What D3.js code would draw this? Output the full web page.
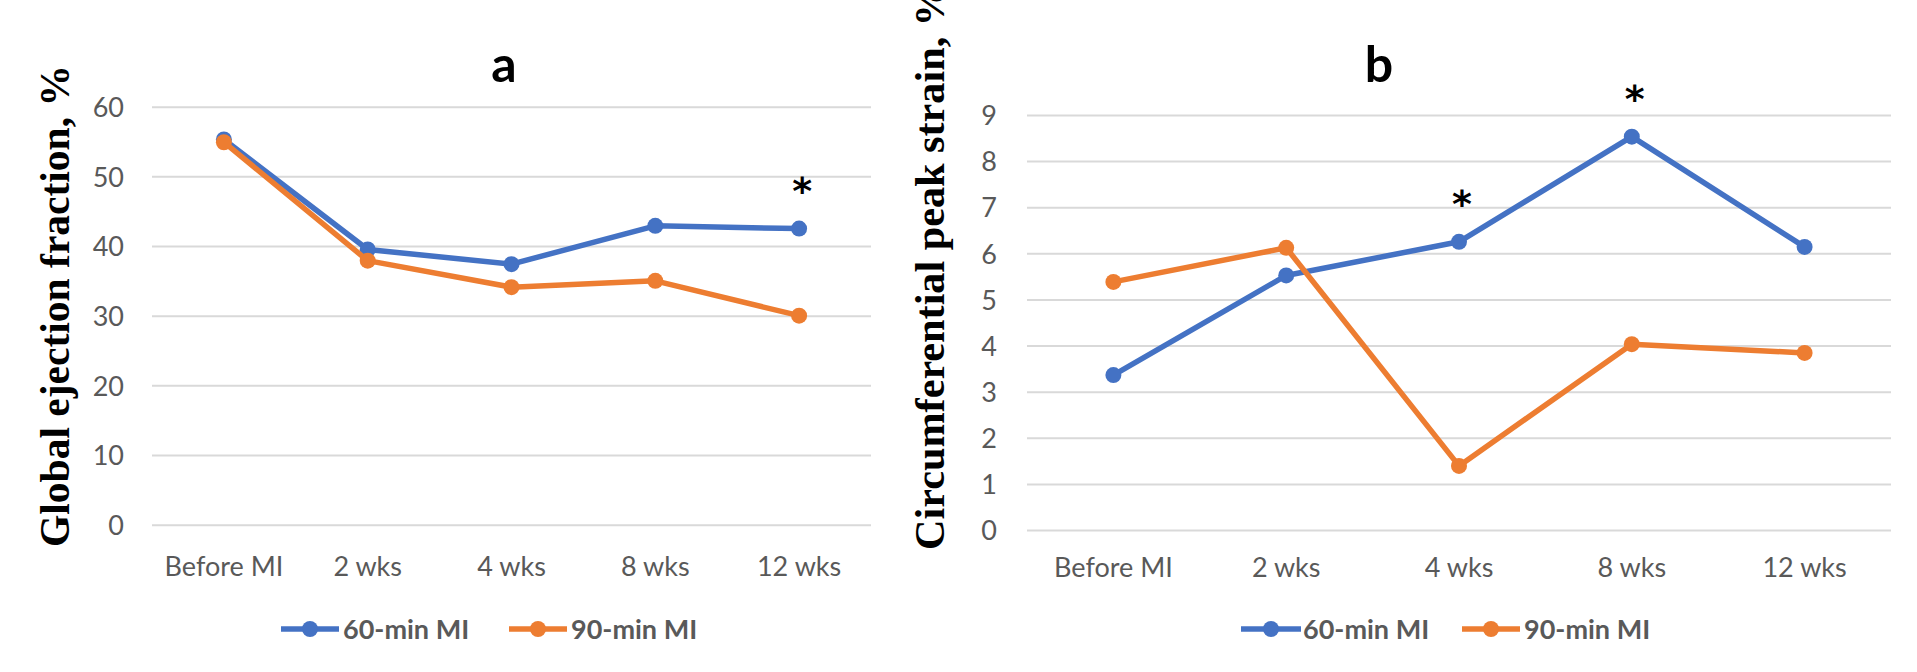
<!DOCTYPE html>
<html>
<head>
<meta charset="utf-8">
<script src="https://cdn.jsdelivr.net/npm/d3@7"></script>
<style>
  html, body { margin: 0; padding: 0; background: #ffffff; }
  svg { display: block; }
</style>
</head>
<body>
<script>
// ---- data ----
const categories = ["Before MI", "2 wks", "4 wks", "8 wks", "12 wks"];
const seriesNames = ["60-min MI", "90-min MI"];
const efValues60 = [55.3, 39.5, 37.4, 42.9, 42.5];
const efValues90 = [54.9, 37.9, 34.1, 35.0, 30.0];
const strainValues60 = [3.36, 5.52, 6.25, 8.53, 6.14];
const strainValues90 = [5.38, 6.12, 1.39, 4.03, 3.84];
const efTicks = [0, 10, 20, 30, 40, 50, 60];
const strainTicks = [0, 1, 2, 3, 4, 5, 6, 7, 8, 9];
const efStars = ["12 wks"];
const strainStars = ["4 wks", "8 wks"];

const colors = ["#4472C4", "#ED7D31"];
const W = 1917, H = 672;

const svg = d3.select("body").append("svg").attr("width", W).attr("height", H);

function drawPanel(cfg) {
  const x = d3.scaleBand().domain(categories).range([cfg.left, cfg.right]);
  const cx = c => x(c) + x.bandwidth() / 2;
  const y = d3.scaleLinear().domain(cfg.domain).range([cfg.bottom, cfg.top]);
  const g = svg.append("g");

  // gridlines + y tick labels
  const yAxis = d3.axisLeft(y).tickValues(cfg.ticks).tickSize(-(cfg.right - cfg.left)).tickPadding(cfg.tickGap);
  const ga = g.append("g").attr("transform", `translate(${cfg.left},0)`).call(yAxis);
  ga.select(".domain").remove();
  ga.selectAll(".tick line").attr("stroke", "#d9d9d9").attr("stroke-width", 2);
  ga.selectAll(".tick text").attr("fill", "#595959").style("font-family", "Lato, 'Open Sans', sans-serif")
    .style("font-size", "27px").attr("dy", "0.36em");

  // x labels
  const xAxis = d3.axisBottom(x).tickSize(0).tickPadding(0);
  const gx = g.append("g").attr("transform", `translate(0,${cfg.labelY})`).call(xAxis);
  gx.select(".domain").remove();
  gx.selectAll(".tick text").attr("fill", "#595959").style("font-family", "Lato, 'Open Sans', sans-serif")
    .style("font-size", "27px").attr("dy", 0).attr("y", 0);

  // lines + markers
  const line = d3.line().x((d, i) => cx(categories[i])).y(d => y(d));
  cfg.series.forEach((vals, si) => {
    g.append("path").datum(vals).attr("d", line).attr("fill", "none")
      .attr("stroke", colors[si]).attr("stroke-width", 5.5).attr("stroke-linejoin", "round");
    g.selectAll(null).data(vals).enter().append("circle")
      .attr("cx", (d, i) => cx(categories[i])).attr("cy", d => y(d)).attr("r", 8).attr("fill", colors[si]);
  });

  // asterisks
  cfg.stars.forEach(c => {
    const i = categories.indexOf(c);
    g.append("text").attr("x", cx(c) + 3).attr("y", y(cfg.series[0][i]) - 42 + 17)
      .attr("text-anchor", "middle").style("font-family", "'DejaVu Sans', sans-serif")
      .style("font-size", "38px").style("font-weight", "bold").attr("fill", "#000").text("*");
  });

  // panel title
  g.append("text").attr("x", cfg.titleX).attr("y", 81.5).attr("text-anchor", "middle")
    .style("font-family", "Lato, 'Open Sans', sans-serif").style("font-weight", "bold")
    .style("font-size", "50px").attr("fill", "#000").text(cfg.title);

  // y axis title
  g.append("text").attr("transform", `translate(${cfg.ytX},${cfg.ytStart}) rotate(-90)`)
    .attr("text-anchor", "start")
    .style("font-family", "'Liberation Serif', 'Times New Roman', serif").style("font-weight", "bold")
    .style("font-size", "42px").attr("fill", "#000")
    .attr("textLength", cfg.ytLen).attr("lengthAdjust", "spacingAndGlyphs")
    .text(cfg.yTitle);

  // legend
  cfg.legend.forEach((L, si) => {
    g.append("line").attr("x1", L.x1).attr("x2", L.x2).attr("y1", 629).attr("y2", 629)
      .attr("stroke", colors[si]).attr("stroke-width", 5.5);
    g.append("circle").attr("cx", (L.x1 + L.x2) / 2).attr("cy", 629).attr("r", 8).attr("fill", colors[si]);
    g.append("text").attr("x", L.tx).attr("y", 629).attr("dy", "0.36em")
      .style("font-family", "Lato, 'Open Sans', sans-serif").style("font-weight", "bold")
      .style("font-size", "27px").attr("fill", "#595959").text(seriesNames[si]);
  });
}

drawPanel({
  left: 152, right: 871, top: 106.7, bottom: 524.7, domain: [0, 60], ticks: efTicks, tickGap: 28,
  labelY: 576, series: [efValues60, efValues90], stars: efStars,
  title: "a", titleX: 504, yTitle: "Global ejection fraction, %", ytX: 69, ytStart: 547, ytLen: 482,
  legend: [{x1: 281, x2: 339, tx: 343}, {x1: 509, x2: 567, tx: 571}]
});

drawPanel({
  left: 1027, right: 1891, top: 115, bottom: 530, domain: [0, 9], ticks: strainTicks, tickGap: 30,
  labelY: 577, series: [strainValues60, strainValues90], stars: strainStars,
  title: "b", titleX: 1379, yTitle: "Circumferential peak strain, %", ytX: 944, ytStart: 550, ytLen: 566,
  legend: [{x1: 1241, x2: 1301, tx: 1303}, {x1: 1462, x2: 1520, tx: 1524}]
});
</script>
</body>
</html>
